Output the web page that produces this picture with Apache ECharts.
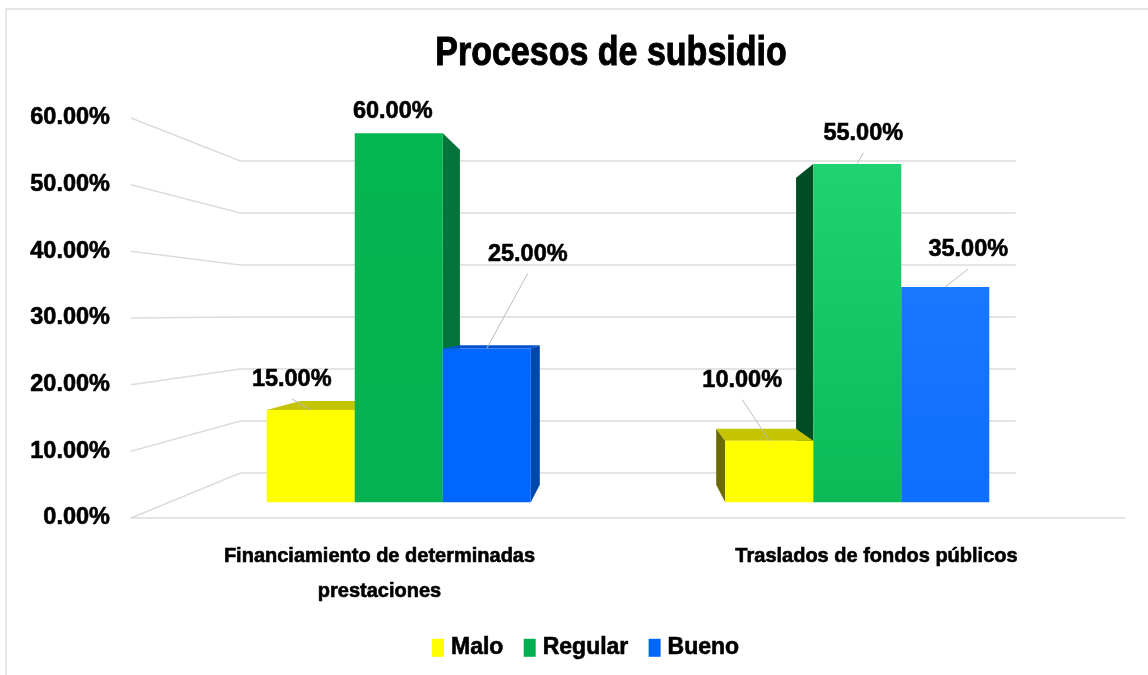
<!DOCTYPE html>
<html>
<head>
<meta charset="utf-8">
<style>html,body{margin:0;padding:0;background:#fff}#c{width:1148px;height:675px}</style>
<script src="https://cdn.jsdelivr.net/npm/echarts@6/dist/echarts.min.js"></script>
</head>
<body>
<div id="c"></div>
<script>
const chartTitle = 'Procesos de subsidio';
const categories = ['Financiamiento de determinadas\nprestaciones', 'Traslados de fondos públicos'];
const seriesNames = ['Malo', 'Regular', 'Bueno'];
const malo = [15, 10];
const regular = [60, 55];
const bueno = [25, 35];
const yTicks = [0, 10, 20, 30, 40, 50, 60];

const FONT = '"Liberation Sans",Arial,sans-serif';
const LEGEND_COLORS = ['#FFFF00', '#00B050', '#0066FF'];
// face colours: [category][series]
const FRONT = [
  [['#FFFF00', '#FFFF00'], ['#05B552', '#05B150'], ['#0066FF', '#0066FF']],
  [['#FFFF00', '#FFFF00'], ['#20D271', '#0BBA57'], ['#1878FF', '#0E6EFF']]
];
const TOP = ['#C4C400', '#04753A', '#0052CC'];
const SIDE = [
  ['#8A8A00', '#04753A', '#0047AB'],
  ['#6B6B00', '#004D24', '#0047AB']
];
// label displacement from the front-top centre of each bar: [category][series]
const LABEL_SHIFT = [
  [[-19, -30], [-6, -22], [41, -94]],
  [[-27, -60], [6, -30], [23, -37]]
];
const FRONT_DEPTH = 0.9225, BACK_DEPTH = 0.837, WALL_DEPTH = 0.78;
const HORIZON_VALUE = 30.67, BAR_SHARE = 0.192;
const HEAVY = { textBorderColor: '#000', textBorderWidth: 0.6 };

function projector(api) {
  const a = api.coord([0, 0]), b = api.coord([1, 0]);
  const vx = (a[0] + b[0]) / 2, vy = api.coord([0, HORIZON_VALUE])[1];
  return (x, y, s) => [vx + (x - vx) * s, vy + (y - vy) * s];
}

function wallItem(params, api) {
  const p = projector(api), v = api.value(0);
  const cs = params.coordSys, y = api.coord([0, v])[1];
  const xl = cs.x, xr = cs.x + cs.width;
  return {
    type: 'polyline', silent: true, z2: 0,
    shape: { points: [[xl, y], p(xl, y, WALL_DEPTH), p(xr, y, WALL_DEPTH)] },
    style: { fill: 'none', stroke: '#dcdcdc', lineWidth: 1.5 }
  };
}

function barRenderer(si) {
  return function (params, api) {
    const c = api.value(0), v = api.value(1);
    const p = projector(api);
    const band = api.size([1, 0])[0], w = band * BAR_SHARE;
    const cx = api.coord([c, 0])[0] + (si - 1) * w;
    const xl = cx - w / 2, xr = cx + w / 2;
    const y0 = api.coord([c, 0])[1], y1 = api.coord([c, v])[1];
    const vx = p(0, 0, 0)[0], vy = p(0, 0, 0)[1];
    const base = (c === 0 ? si : 2 - si) * 10 + 10;
    const F = FRONT_DEPTH, B = BACK_DEPTH;
    const poly = (pts, fill, z2) => ({ type: 'polygon', shape: { points: pts }, style: { fill }, z2 });
    const kids = [];
    if (y1 > vy) kids.push(poly([p(xl, y1, F), p(xr, y1, F), p(xr, y1, B), p(xl, y1, B)], TOP[si], base + 1));
    if (xr < vx) kids.push(poly([p(xr, y1, F), p(xr, y1, B), p(xr, y0, B), p(xr, y0, F)], SIDE[c][si], base));
    if (xl > vx) kids.push(poly([p(xl, y1, F), p(xl, y1, B), p(xl, y0, B), p(xl, y0, F)], SIDE[c][si], base));
    const g = new echarts.graphic.LinearGradient(0, 0, 0, 1, [
      { offset: 0, color: FRONT[c][si][0] }, { offset: 1, color: FRONT[c][si][1] }
    ]);
    kids.push(poly([p(xl, y1, F), p(xr, y1, F), p(xr, y0, F), p(xl, y0, F)], g, base + 2));
    const anchor = p(cx, y1, F), sh = LABEL_SHIFT[c][si];
    const lx = anchor[0] + sh[0], ly = anchor[1] + sh[1];
    if (sh[1] < -25) kids.push({
      type: 'line', z2: 200,
      shape: { x1: lx, y1: ly + 19, x2: anchor[0], y2: anchor[1] },
      style: { stroke: '#bdbdbd', lineWidth: 1 }
    });
    kids.push({
      type: 'text', z2: 300, x: lx, y: ly,
      style: {
        text: v.toFixed(2) + '%', font: 'bold 23.5px ' + FONT, fill: '#000',
        align: 'center', verticalAlign: 'middle',
        stroke: '#000', lineWidth: 0.6
      }
    });
    return { type: 'group', children: kids };
  };
}

const chart = echarts.init(document.getElementById('c'), null, { renderer: 'canvas' });
const barData = [malo, regular, bueno];
chart.setOption({
  animation: false,
  backgroundColor: '#fff',
  legend: {
    data: seriesNames, left: 432, top: 636, padding: 0, itemWidth: 12, itemHeight: 18, itemGap: 20,
    selectedMode: false,
    icon: 'rect',
    textStyle: Object.assign({ fontFamily: FONT, fontWeight: 'bold', fontSize: 23, color: '#000', padding: [0, 0, 0, 2] }, HEAVY)
  },
  grid: { left: 131, right: 23, top: 118, bottom: 157, containLabel: false },
  xAxis: {
    type: 'category', data: categories,
    axisLine: { show: true, lineStyle: { color: '#dcdcdc', width: 1.5 } },
    axisTick: { show: false },
    axisLabel: Object.assign({
      interval: 0, margin: 21, lineHeight: 35, align: 'center',
      fontFamily: FONT, fontWeight: 'bold', fontSize: 20, color: '#000'
    }, HEAVY)
  },
  yAxis: {
    type: 'value', min: 0, max: 60, interval: 10,
    axisLine: { show: false }, axisTick: { show: false }, splitLine: { show: false },
    axisLabel: Object.assign({
      margin: 21, fontFamily: FONT, fontWeight: 'bold', fontSize: 23.5, color: '#000',
      padding: [0, 0, 5, 0],
      formatter: v => v.toFixed(2) + '%'
    }, HEAVY)
  },
  graphic: [{
    type: 'rect', silent: true, z: -1,
    shape: { x: 6, y: 9, width: 1160, height: 700 },
    style: { fill: 'none', stroke: '#dedede', lineWidth: 1.5 }
  }, {
    type: 'text', silent: true, x: 611, y: 54, scaleX: 0.85,
    style: {
      text: chartTitle, font: 'bold 40px ' + FONT, fill: '#000',
      align: 'center', verticalAlign: 'middle', stroke: '#000', lineWidth: 1
    }
  }],
  series: [
    { type: 'custom', name: 'walls', silent: true, renderItem: wallItem, data: yTicks.map(v => [v]), encode: { y: 0 } }
  ].concat(seriesNames.map((name, si) => ({
    type: 'custom', name, renderItem: barRenderer(si),
    itemStyle: { color: LEGEND_COLORS[si] },
    encode: { x: 0, y: 1 },
    data: barData[si].map((v, i) => [i, v])
  })))
});
</script>
</body>
</html>
